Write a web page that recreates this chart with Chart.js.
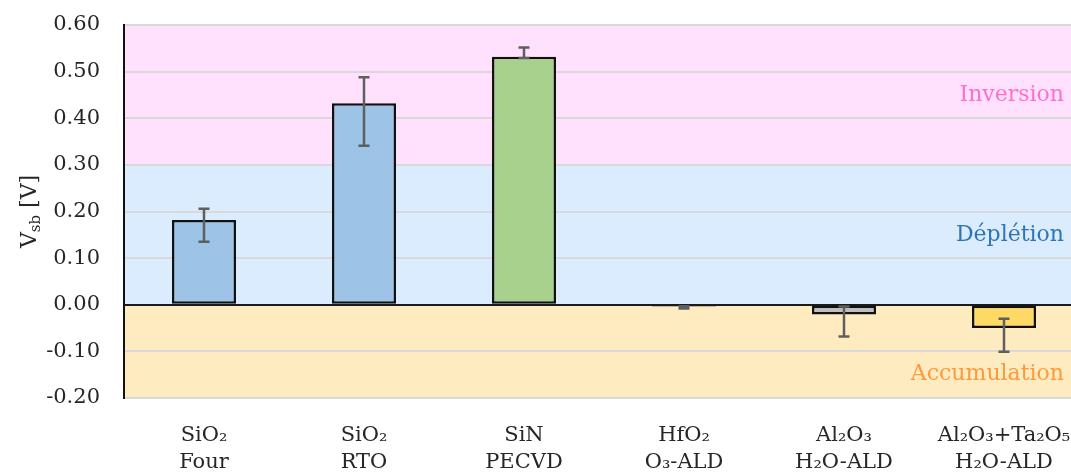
<!DOCTYPE html>
<html>
<head>
<meta charset="utf-8">
<script src="https://cdn.jsdelivr.net/npm/chart.js@4.4.0/dist/chart.umd.min.js"></script>
<style>
  html, body { margin: 0; padding: 0; background: #fff; overflow: hidden; }
  #wrap { position: relative; width: 1090px; height: 474px; }
</style>
</head>
<body>
<div id="wrap"><canvas id="vsbChart"></canvas></div>
<script>
// data
const categories = [
  ['SiO₂', 'Four'],
  ['SiO₂', 'RTO'],
  ['SiN', 'PECVD'],
  ['HfO₂', 'O₃-ALD'],
  ['Al₂O₃', 'H₂O-ALD'],
  ['Al₂O₃+Ta₂O₅', 'H₂O-ALD']
];
const vsbValues = [0.182, 0.432, 0.532, -0.004, -0.021, -0.050];
const errPlus = [0.024, 0.056, 0.020, 0.001, 0.017, 0.020];
const errMinus = [0.047, 0.091, 0.003, 0.004, 0.047, 0.051];
const barColors = ['#9DC3E6', '#9DC3E6', '#A9D18E', '#F4B183', '#BFBFBF', '#FFD966'];

const yTicks = { min: -0.2, max: 0.6, step: 0.1 };
const zoneNames = ['Inversion', 'Déplétion', 'Accumulation'];
const zoneFrom = [0.3, 0.0, -0.2];
const zoneTo = [0.6, 0.3, 0.0];
const zoneLabelAt = [0.45, 0.15, -0.15];
const zoneFill = ['#FFE1FD', '#DAECFD', '#FFEBC0'];
const zoneText = ['#FF6FCF', '#2E75B6', '#FF9A3C'];

const FONT = "'DejaVu Serif', serif";

// coloured zones behind grid
const zonesPlugin = {
  id: 'zones',
  beforeDraw(chart) {
    const { ctx, chartArea: a, scales: { y } } = chart;
    ctx.save();
    zoneFrom.forEach((from, i) => {
      const top = y.getPixelForValue(zoneTo[i]);
      const bot = y.getPixelForValue(from);
      ctx.fillStyle = zoneFill[i];
      ctx.fillRect(a.left, top, a.right - a.left, bot - top);
    });
    ctx.restore();
  },
  afterDatasetsDraw(chart) {
    const { ctx, scales: { y } } = chart;
    ctx.save();
    ctx.font = '22px ' + FONT;
    ctx.textAlign = 'right';
    ctx.textBaseline = 'middle';
    zoneNames.forEach((name, i) => {
      ctx.fillStyle = zoneText[i];
      ctx.fillText(name, 1064, y.getPixelForValue(zoneLabelAt[i]));
    });
    ctx.restore();
  }
};

// asymmetric error bars
const errorBarsPlugin = {
  id: 'errorBars',
  afterDatasetsDraw(chart) {
    const { ctx, scales: { y } } = chart;
    const meta = chart.getDatasetMeta(0);
    ctx.save();
    ctx.strokeStyle = '#5f5f5f';
    ctx.lineWidth = 2.5;
    meta.data.forEach((bar, i) => {
      const v = vsbValues[i];
      const yHi = y.getPixelForValue(v + errPlus[i]);
      const yLo = y.getPixelForValue(v - errMinus[i]);
      const x = bar.x;
      ctx.beginPath();
      ctx.moveTo(x, yHi); ctx.lineTo(x, yLo);
      ctx.moveTo(x - 5.5, yHi); ctx.lineTo(x + 5.5, yHi);
      ctx.moveTo(x - 5.5, yLo); ctx.lineTo(x + 5.5, yLo);
      ctx.stroke();
    });
    ctx.restore();
  }
};

// y title with subscript
const yTitlePlugin = {
  id: 'yTitle',
  afterDraw(chart) {
    const { ctx, chartArea: a } = chart;
    const big = '22px ' + FONT, small = '15px ' + FONT;
    ctx.save();
    ctx.translate(28, (a.top + a.bottom) / 2);
    ctx.rotate(-Math.PI / 2);
    ctx.fillStyle = '#262626';
    ctx.textBaseline = 'alphabetic';
    ctx.font = big; const w1 = ctx.measureText('V').width;
    ctx.font = small; const w2 = ctx.measureText('sb').width;
    ctx.font = big; const w3 = ctx.measureText(' [V]').width;
    let x = -(w1 + w2 + w3) / 2;
    ctx.font = big; ctx.fillText('V', x, 8); x += w1;
    ctx.font = small; ctx.fillText('sb', x, 12); x += w2;
    ctx.font = big; ctx.fillText(' [V]', x, 8);
    ctx.restore();
  }
};

new Chart(document.getElementById('vsbChart'), {
  type: 'bar',
  data: {
    labels: categories,
    datasets: [{
      data: vsbValues,
      backgroundColor: barColors,
      borderColor: '#111',
      borderWidth: 2.5,
      borderSkipped: false,
      barPercentage: 0.4,
      categoryPercentage: 1.0
    }]
  },
  options: {
    responsive: true,
    maintainAspectRatio: false,
    animation: false,
    layout: { padding: { top: 25, right: 6, bottom: 0, left: 0 } },
    plugins: { legend: { display: false }, tooltip: { enabled: false } },
    scales: {
      x: {
        afterFit: s => { s.height = 76; },
        grid: { display: false },
        border: { display: false },
        ticks: { color: '#262626', font: { family: FONT, size: 21, lineHeight: 1.3 }, padding: 16, maxRotation: 0, autoSkip: false }
      },
      y: {
        min: yTicks.min,
        max: yTicks.max,
        afterFit: s => { s.width = 124; s.paddingTop = 0; s.paddingBottom = 0; },
        border: { color: '#111', width: 2 },
        grid: {
          color: c => (Math.abs(c.tick.value) < 1e-9 ? '#1a1a1a' : '#d9d9d9'),
          lineWidth: 2,
          drawTicks: false
        },
        ticks: {
          stepSize: yTicks.step,
          padding: 24,
          color: '#262626',
          font: { family: FONT, size: 21 },
          callback: v => v.toFixed(2)
        }
      }
    }
  },
  plugins: [zonesPlugin, errorBarsPlugin, yTitlePlugin]
});
</script>
</body>
</html>
